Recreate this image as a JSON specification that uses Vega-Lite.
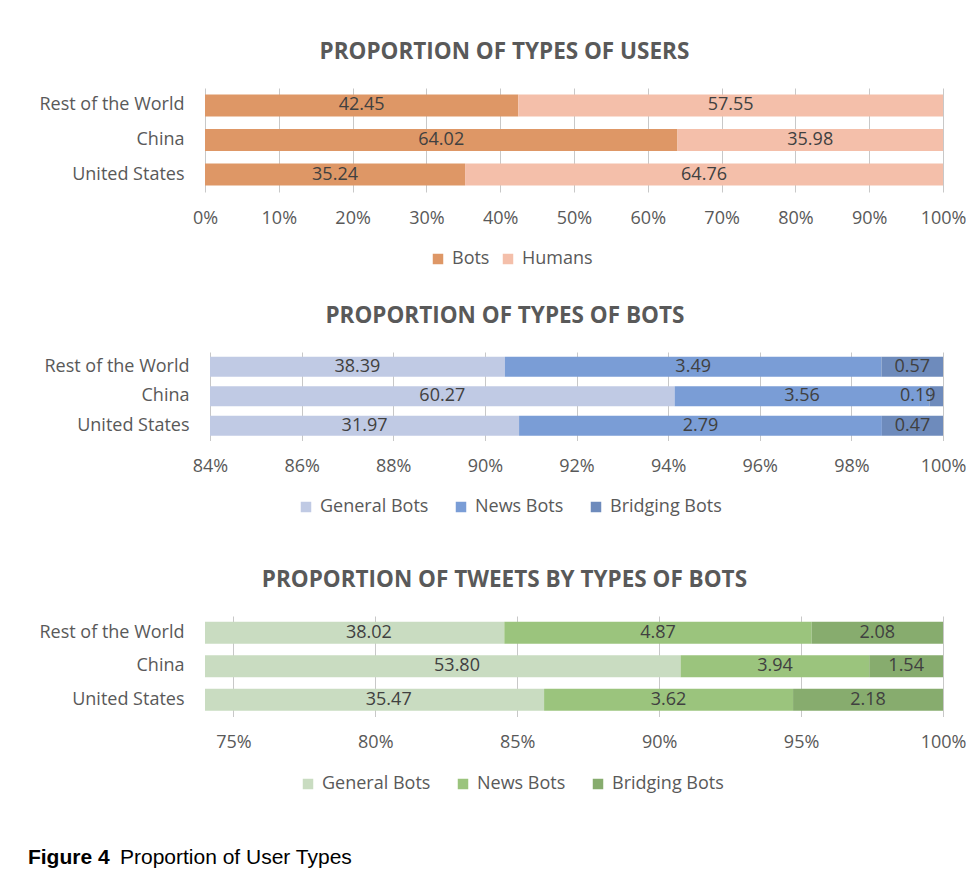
{
  "$schema": "https://vega.github.io/schema/vega-lite/v6.json",
  "padding": {"left": 27, "top": 40, "right": 0, "bottom": 0},
  "background": "white",
  "datasets": {
    "users": [
      {"country": "Rest of the World", "type": "Bots", "value": 42.45},
      {"country": "Rest of the World", "type": "Humans", "value": 57.55},
      {"country": "China", "type": "Bots", "value": 64.02},
      {"country": "China", "type": "Humans", "value": 35.98},
      {"country": "United States", "type": "Bots", "value": 35.24},
      {"country": "United States", "type": "Humans", "value": 64.76}
    ],
    "bots": [
      {"country": "Rest of the World", "type": "General Bots", "value": 38.39},
      {"country": "Rest of the World", "type": "News Bots", "value": 3.49},
      {"country": "Rest of the World", "type": "Bridging Bots", "value": 0.57},
      {"country": "China", "type": "General Bots", "value": 60.27},
      {"country": "China", "type": "News Bots", "value": 3.56},
      {"country": "China", "type": "Bridging Bots", "value": 0.19},
      {"country": "United States", "type": "General Bots", "value": 31.97},
      {"country": "United States", "type": "News Bots", "value": 2.79},
      {"country": "United States", "type": "Bridging Bots", "value": 0.47}
    ],
    "tweets": [
      {"country": "Rest of the World", "type": "General Bots", "value": 38.02},
      {"country": "Rest of the World", "type": "News Bots", "value": 4.87},
      {"country": "Rest of the World", "type": "Bridging Bots", "value": 2.08},
      {"country": "China", "type": "General Bots", "value": 53.80},
      {"country": "China", "type": "News Bots", "value": 3.94},
      {"country": "China", "type": "Bridging Bots", "value": 1.54},
      {"country": "United States", "type": "General Bots", "value": 35.47},
      {"country": "United States", "type": "News Bots", "value": 3.62},
      {"country": "United States", "type": "Bridging Bots", "value": 2.18}
    ]
  },
  "title": {"text": "Proportion of User Types", "orient": "bottom", "anchor": "start", "font": "Liberation Sans", "fontSize": 21, "fontWeight": "normal", "color": "#000000", "offset": 0, "dx": 92, "dy": -21},
  "resolve": {"scale": {"color": "independent", "x": "independent", "y": "independent"}},
  "vconcat": [
    {
      "title": {"text": "Figure 4", "orient": "bottom", "anchor": "start", "font": "Liberation Sans", "fontSize": 21, "fontWeight": "bold", "color": "#000000", "offset": 54, "dx": -11},
      "spacing": 52,
      "resolve": {"scale": {"color": "independent", "x": "independent", "y": "independent"}},
      "vconcat": [
        {
          "spacing": 36,
          "resolve": {"scale": {"color": "independent", "x": "independent", "y": "independent"}},
          "vconcat": [
            {
              "title": {"text": "PROPORTION OF TYPES OF USERS", "fontSize": 22.5, "fontWeight": "bold", "color": "#595959", "font": "Open Sans", "anchor": "middle", "frame": "bounds", "offset": 25, "dx": 2},
              "width": 738,
              "height": 104,
              "data": {"name": "users"},
              "transform": [
                {"calculate": "indexof(['Bots','Humans'], datum.type)", "as": "k"},
                {"joinaggregate": [{"op": "sum", "field": "value", "as": "total"}], "groupby": ["country"]},
                {"window": [{"op": "sum", "field": "value", "as": "cum"}], "groupby": ["country"], "sort": [{"field": "k"}], "frame": [null, 0]},
                {"calculate": "datum.cum / datum.total", "as": "end"},
                {"calculate": "(datum.cum - datum.value) / datum.total", "as": "start"},
                {"calculate": "(max(datum.start, 0) + datum.end) / 2", "as": "mid"}
              ],
              "encoding": {
                "y": {"field": "country", "type": "nominal", "sort": ["Rest of the World", "China", "United States"], "scale": {"paddingInner": 0.36, "paddingOuter": 0.185}, "axis": {"labelPadding": 21}}
              },
              "layer": [
                {
                  "mark": {"type": "bar"},
                  "encoding": {
                    "x": {"field": "start", "type": "quantitative", "scale": {"domain": [0, 1], "clamp": true}, "axis": {"values": [0, 0.1, 0.2, 0.3, 0.4, 0.5, 0.6, 0.7, 0.8, 0.9, 1]}},
                    "x2": {"field": "end"},
                    "color": {"field": "type", "type": "nominal", "scale": {"domain": ["Bots", "Humans"], "range": ["#DE9766", "#F4BFAA"]}, "legend": {"legendX": 224, "legendY": 162, "columnPadding": 9}}
                  }
                },
                {
                  "mark": {"type": "text", "align": "center", "baseline": "middle", "fontSize": 18, "color": "#404040", "font": "Open Sans"},
                  "encoding": {
                    "x": {"field": "mid", "type": "quantitative"},
                    "text": {"field": "value", "type": "quantitative", "format": ".2f"}
                  }
                }
              ]
            },
            {
              "title": {"text": "PROPORTION OF TYPES OF BOTS", "fontSize": 22.5, "fontWeight": "bold", "color": "#595959", "font": "Open Sans", "anchor": "middle", "frame": "bounds", "offset": 25, "dx": 0},
              "width": 738,
              "height": 88.5,
              "data": {"name": "bots"},
              "transform": [
                {"calculate": "indexof(['General Bots','News Bots','Bridging Bots'], datum.type)", "as": "k"},
                {"joinaggregate": [{"op": "sum", "field": "value", "as": "total"}], "groupby": ["country"]},
                {"window": [{"op": "sum", "field": "value", "as": "cum"}], "groupby": ["country"], "sort": [{"field": "k"}], "frame": [null, 0]},
                {"calculate": "datum.cum / datum.total", "as": "end"},
                {"calculate": "(datum.cum - datum.value) / datum.total", "as": "start"},
                {"calculate": "min((max(datum.start, 0.84) + datum.end) / 2, 0.9945)", "as": "mid"}
              ],
              "encoding": {
                "y": {"field": "country", "type": "nominal", "sort": ["Rest of the World", "China", "United States"], "scale": {"paddingInner": 0.32, "paddingOuter": 0.16}, "axis": {"labelPadding": 16}}
              },
              "layer": [
                {
                  "mark": {"type": "bar"},
                  "encoding": {
                    "x": {"field": "start", "type": "quantitative", "scale": {"domain": [0.84, 1], "range": [5, 738], "clamp": true}, "axis": {"values": [0.84, 0.86, 0.88, 0.9, 0.92, 0.94, 0.96, 0.98, 1]}},
                    "x2": {"field": "end"},
                    "color": {"field": "type", "type": "nominal", "scale": {"domain": ["General Bots", "News Bots", "Bridging Bots"], "range": ["#C0CAE4", "#7A9DD6", "#6E8BBC"]}, "legend": {"legendX": 92, "legendY": 146, "columnPadding": 23}}
                  }
                },
                {
                  "mark": {"type": "text", "align": "center", "baseline": "middle", "fontSize": 18, "color": "#404040", "font": "Open Sans"},
                  "encoding": {
                    "x": {"field": "mid", "type": "quantitative"},
                    "text": {"field": "value", "type": "quantitative", "format": ".2f"}
                  }
                }
              ]
            }
          ]
        },
        {
          "title": {"text": "PROPORTION OF TWEETS BY TYPES OF BOTS", "fontSize": 22.5, "fontWeight": "bold", "color": "#595959", "font": "Open Sans", "anchor": "middle", "frame": "bounds", "offset": 25, "dx": 2},
          "width": 738,
          "height": 100.5,
          "data": {"name": "tweets"},
          "transform": [
            {"calculate": "indexof(['General Bots','News Bots','Bridging Bots'], datum.type)", "as": "k"},
            {"joinaggregate": [{"op": "sum", "field": "value", "as": "total"}], "groupby": ["country"]},
            {"window": [{"op": "sum", "field": "value", "as": "cum"}], "groupby": ["country"], "sort": [{"field": "k"}], "frame": [null, 0]},
            {"calculate": "datum.cum / datum.total", "as": "end"},
            {"calculate": "(datum.cum - datum.value) / datum.total", "as": "start"},
            {"calculate": "min((max(datum.start, 0.75) + datum.end) / 2, 0.9915)", "as": "mid"}
          ],
          "encoding": {
            "y": {"field": "country", "type": "nominal", "sort": ["Rest of the World", "China", "United States"], "scale": {"paddingInner": 0.343, "paddingOuter": 0.17}, "axis": {"labelPadding": 21}}
          },
          "layer": [
            {
              "mark": {"type": "bar"},
              "encoding": {
                "x": {"field": "start", "type": "quantitative", "scale": {"domain": [0.75, 1], "clamp": true}, "axis": {"values": [0.75, 0.8, 0.85, 0.9, 0.95, 1]}},
                "x2": {"field": "end"},
                "color": {"field": "type", "type": "nominal", "scale": {"domain": ["General Bots", "News Bots", "Bridging Bots"], "range": ["#C9DCC1", "#9BC47D", "#87AC6E"]}, "legend": {"legendX": 94, "legendY": 159, "columnPadding": 23}}
              }
            },
            {
              "mark": {"type": "text", "align": "center", "baseline": "middle", "fontSize": 18, "color": "#404040", "font": "Open Sans"},
              "encoding": {
                "x": {"field": "mid", "type": "quantitative"},
                "text": {"field": "value", "type": "quantitative", "format": ".2f"}
              }
            }
          ]
        }
      ]
    }
  ],
  "config": {
    "font": "Open Sans",
    "view": {"stroke": null},
    "axisX": {"grid": true, "gridColor": "#C8C8C8", "gridWidth": 1, "domain": false, "ticks": false, "labelFontSize": 18, "labelColor": "#595959", "labelPadding": 17, "labelFlush": false, "labelOverlap": false, "title": null, "format": ".0%", "labelFont": "Open Sans"},
    "axisY": {"grid": false, "domain": false, "ticks": false, "labelFontSize": 18, "labelColor": "#595959", "title": null, "labelFont": "Open Sans"},
    "legend": {"orient": "none", "direction": "horizontal", "title": null, "symbolType": "square", "symbolSize": 110, "symbolStrokeWidth": 0, "labelFontSize": 18, "labelColor": "#595959", "labelOffset": 5, "labelFont": "Open Sans"}
  }
}
